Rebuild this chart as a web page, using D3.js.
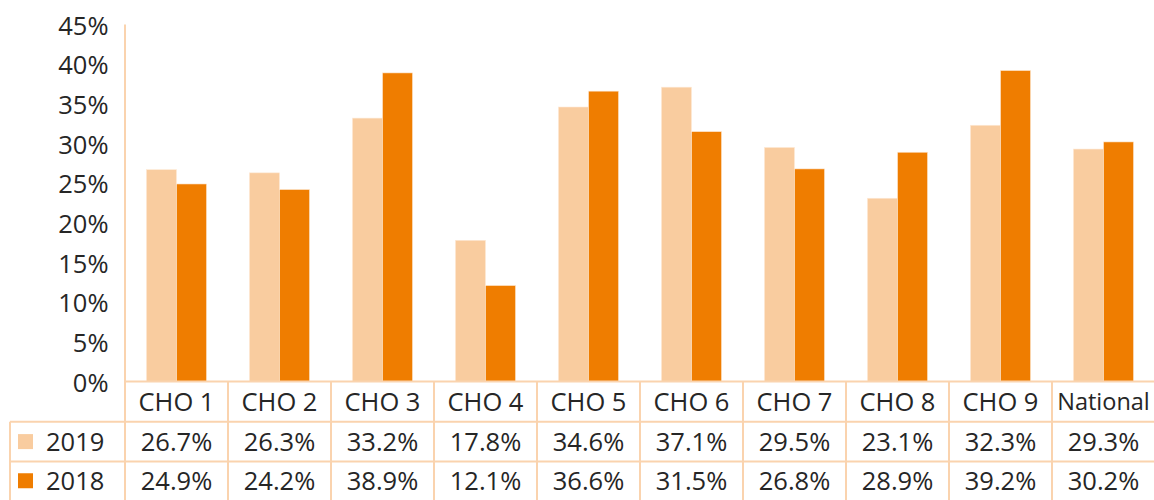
<!DOCTYPE html>
<html><head><meta charset="utf-8">
<script src="https://cdn.jsdelivr.net/npm/d3@7"></script>
<style>body{margin:0;background:#fff;} svg{display:block;font-family:"Open Sans",sans-serif;}</style>
</head><body><svg id="c" width="1154" height="500"></svg>
<script>
const categories = ["CHO 1","CHO 2","CHO 3","CHO 4","CHO 5","CHO 6","CHO 7","CHO 8","CHO 9","National"];
const seriesNames = ["2019","2018"];
const values2019 = [26.7,26.3,33.2,17.8,34.6,37.1,29.5,23.1,32.3,29.3];
const values2018 = [24.9,24.2,38.9,12.1,36.6,31.5,26.8,28.9,39.2,30.2];
const yTicks = [0,5,10,15,20,25,30,35,40,45];
const colors = ["#F9CC9F","#EF7D00"];
const lineColor = "#FAD3AE";

(function(){
const svg = d3.select("#c");
const left = 125, colW = 103, plotTop = 24.5, base = 381.5;
const fs = 25.5;
const x = d3.scaleBand().domain(categories).range([left, left + colW*categories.length]).paddingInner(0).paddingOuter(0);
const y = d3.scaleLinear().domain([0,45]).range([base, plotTop]);
const xs = d3.scaleBand().domain(seriesNames).range([0, colW]).paddingInner(0).paddingOuter(0.7135);
const series = [values2019, values2018];

series.forEach((vals, si) => {
  svg.append("g").selectAll("rect").data(vals).join("rect")
    .attr("x", (d,i) => x(categories[i]) + xs(seriesNames[si]))
    .attr("y", d => y(d))
    .attr("width", xs.bandwidth())
    .attr("height", d => base - y(d))
    .attr("fill", colors[si])
    .attr("stroke", "#fde9d6").attr("stroke-width", 0.6);
});

const ya = svg.append("g").attr("transform", `translate(${left},0)`)
  .call(d3.axisLeft(y).tickValues(yTicks).tickFormat(d => d + "%").tickSize(0).tickPadding(16.5));
ya.select(".domain").remove();
ya.selectAll("text").attr("font-size", fs).attr("fill", "#262626").attr("font-family", "Open Sans").attr("dy", "0.38em");

const rowH = [382, 421.7, 461.5, 500];
const g = svg.append("g").attr("stroke", lineColor).attr("stroke-width", 2).attr("fill", "none");
g.append("line").attr("x1", left).attr("x2", left).attr("y1", plotTop).attr("y2", 500);
categories.forEach((c,i) => {
  if (i > 0) g.append("line").attr("x1", x(c)).attr("x2", x(c)).attr("y1", base).attr("y2", 500);
});
g.append("line").attr("x1", left).attr("x2", 1154).attr("y1", base).attr("y2", base);
g.append("line").attr("x1", 10).attr("x2", 1154).attr("y1", rowH[1]).attr("y2", rowH[1]);
g.append("line").attr("x1", 10).attr("x2", 1154).attr("y1", rowH[2]).attr("y2", rowH[2]);
g.append("line").attr("x1", 10).attr("x2", 10).attr("y1", rowH[1]).attr("y2", 500);

svg.append("g").selectAll("text").data(categories).join("text")
  .attr("x", d => x(d) + colW/2)
  .attr("y", (rowH[0]+rowH[1])/2)
  .attr("dy", "0.36em")
  .attr("text-anchor", "middle")
  .attr("font-size", d => d === "National" ? 23.5 : fs)
  .attr("fill", "#262626")
  .text(d => d);

series.forEach((vals, si) => {
  const cy = (rowH[si+1] + rowH[si+2]) / 2;
  svg.append("g").selectAll("text").data(vals).join("text")
    .attr("x", (d,i) => x(categories[i]) + colW/2)
    .attr("y", cy).attr("dy", "0.36em")
    .attr("text-anchor", "middle").attr("font-size", fs).attr("fill", "#262626")
    .text(d => d.toFixed(1) + "%");
  svg.append("rect").attr("x", 18).attr("y", cy - 7.5).attr("width", 15).attr("height", 15).attr("fill", colors[si]);
  svg.append("text").attr("x", 46).attr("y", cy).attr("dy", "0.36em")
    .attr("font-size", fs).attr("fill", "#262626").text(seriesNames[si]);
});
})();
</script></body></html>
